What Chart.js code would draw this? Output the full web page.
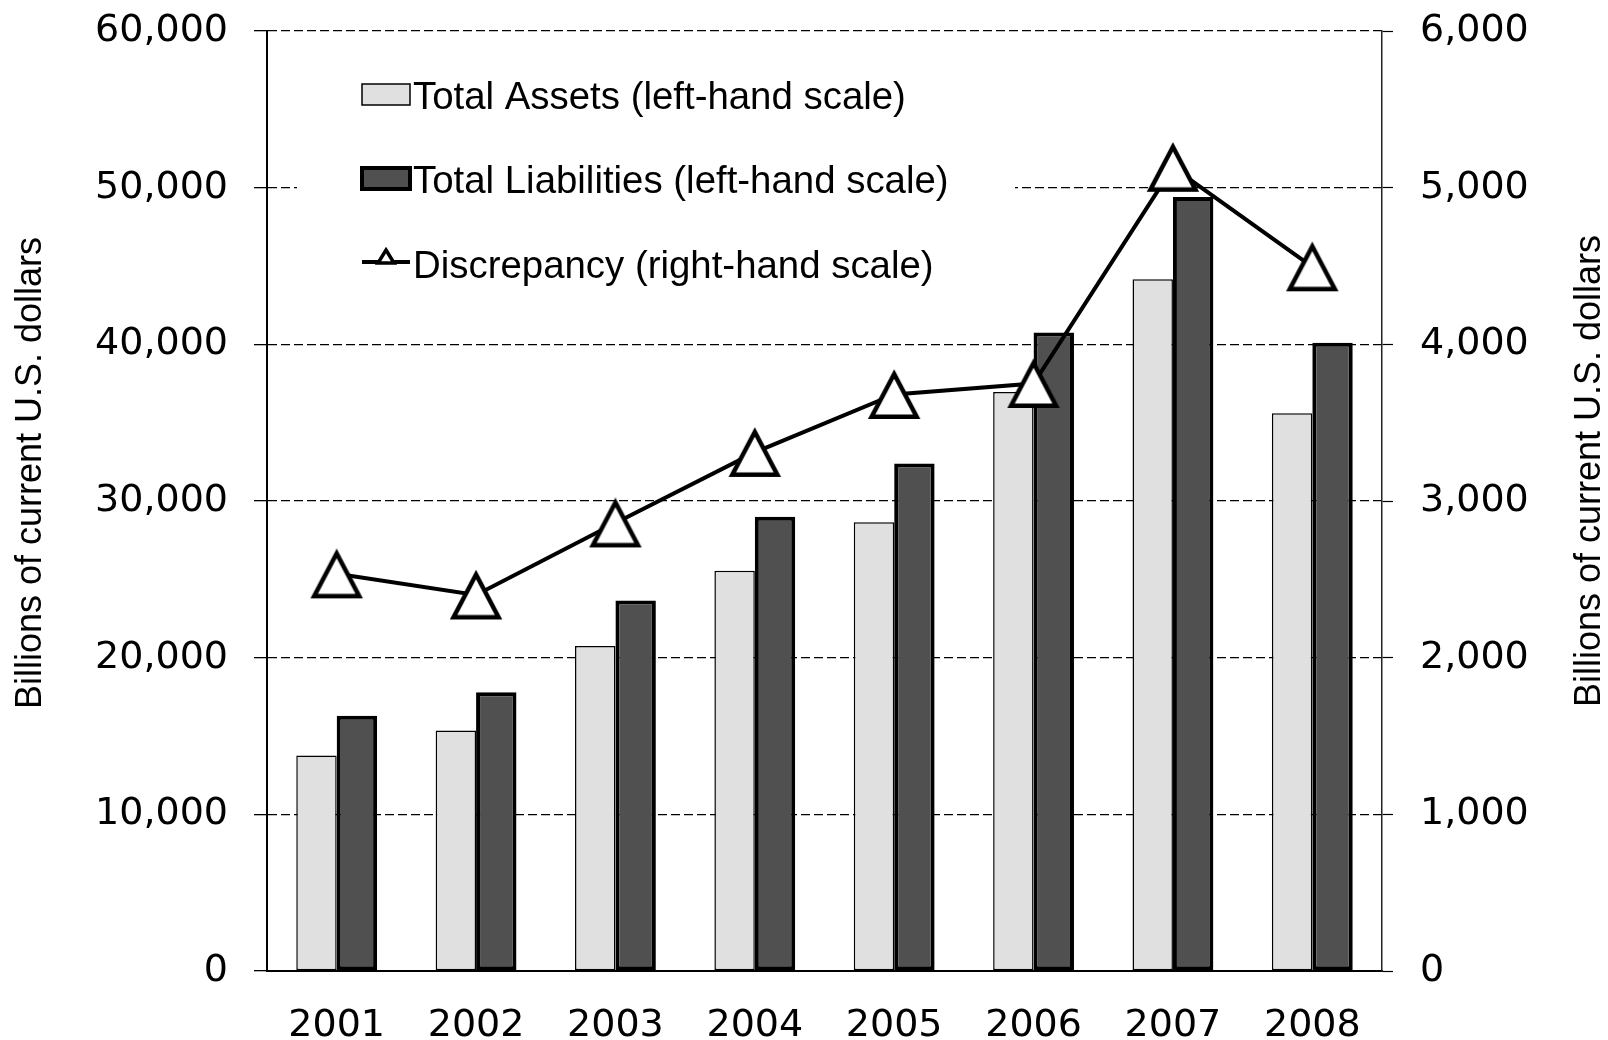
<!DOCTYPE html>
<html>
<head>
<meta charset="utf-8">
<script src="https://cdn.jsdelivr.net/npm/chart.js@4"></script>
<style>
  html, body { margin: 0; padding: 0; background: #fff; }
  #wrap { width: 1608px; height: 1040px; }
</style>
</head>
<body>
<div id="wrap"><canvas id="chart" width="1608" height="1040"></canvas></div>
<script>
// data
const years = ['2001', '2002', '2003', '2004', '2005', '2006', '2007', '2008'];
const totalAssets = [13750, 15350, 20750, 25550, 28650, 36950, 44150, 35600];
const totalLiabilities = [16300, 17800, 23650, 29000, 32400, 40750, 49400, 40100];
const discrepancy = [2535, 2400, 2860, 3310, 3680, 3750, 5130, 4495];
const leftTicks = [0, 10000, 20000, 30000, 40000, 50000, 60000];
const rightTicks = [0, 1000, 2000, 3000, 4000, 5000, 6000];

const axisTitle = 'Billions of current U.S. dollars';
const tickFont = { family: 'DejaVu Sans', size: 38 };

// triangle marker, centred on its bounding box like the original
function makeTriangle(w, h, lw) {
    const c = document.createElement('canvas');
    c.width = w;
    c.height = h;
    const g = c.getContext('2d');
    g.beginPath();
    g.moveTo(w / 2, lw + 0.5);
    g.lineTo(w - lw, h - lw / 2 - 1);
    g.lineTo(lw, h - lw / 2 - 1);
    g.closePath();
    g.fillStyle = '#fff';
    g.fill();
    g.lineWidth = lw;
    g.lineJoin = 'miter';
    g.strokeStyle = '#000';
    g.stroke();
    return c;
}
const bigTriangle = makeTriangle(54, 51, 4.5);

// fixed axis box sizes so the plot area sits where the original's does
function fixBox(size, vertical) {
    return function (scale) {
        if (vertical) {
            scale.width = size;
            scale.paddingTop = 0;
            scale.paddingBottom = 0;
        } else {
            scale.height = size;
            scale.paddingLeft = 0;
            scale.paddingRight = 0;
        }
    };
}

// legend drawn inside the plot, on a white box that hides the grid
const legendPlugin = {
    id: 'insideLegend',
    beforeDatasetsDraw(chart) {
        const ctx = chart.ctx;
        ctx.save();
        ctx.fillStyle = '#fff';
        ctx.fillRect(297, 45, 718, 250);

        const sx = 362, sw = 48;
        // Total Assets swatch
        ctx.fillStyle = '#e0e0e0';
        ctx.fillRect(sx, 84, sw, 21);
        ctx.lineWidth = 1.5;
        ctx.strokeStyle = '#000';
        ctx.strokeRect(sx, 84, sw, 21);
        // Total Liabilities swatch
        ctx.fillStyle = '#505050';
        ctx.fillRect(sx, 168, sw, 21);
        ctx.lineWidth = 4;
        ctx.strokeRect(sx, 168, sw, 21);
        // Discrepancy line + small triangle
        ctx.beginPath();
        ctx.moveTo(sx, 262);
        ctx.lineTo(sx + sw, 262);
        ctx.lineWidth = 4;
        ctx.stroke();
        ctx.beginPath();
        ctx.moveTo(sx + sw / 2, 250);
        ctx.lineTo(sx + sw / 2 + 8, 263);
        ctx.lineTo(sx + sw / 2 - 8, 263);
        ctx.closePath();
        ctx.fillStyle = '#fff';
        ctx.fill();
        ctx.lineWidth = 3.5;
        ctx.stroke();

        ctx.fillStyle = '#000';
        ctx.font = '38.4px "Liberation Sans", Arial, sans-serif';
        ctx.textAlign = 'left';
        ctx.textBaseline = 'middle';
        const ds = chart.data.datasets;
        ctx.fillText(ds[0].label, 413, 98);
        ctx.fillText(ds[1].label, 413, 182);
        ctx.fillText(ds[2].label, 413, 267);
        ctx.restore();
    },
    afterDraw(chart) {
        const ctx = chart.ctx;
        ctx.save();
        ctx.fillStyle = '#000';
        ctx.font = '36px "Liberation Sans", Arial, sans-serif';
        ctx.textAlign = 'center';
        ctx.textBaseline = 'middle';
        [[31, 473], [1590, 471]].forEach(([x, y]) => {
            ctx.save();
            ctx.translate(x, y);
            ctx.rotate(-Math.PI / 2);
            ctx.fillText(axisTitle, 0, 0);
            ctx.restore();
        });
        ctx.restore();
    }
};

new Chart(document.getElementById('chart'), {
    type: 'bar',
    data: {
        labels: years,
        datasets: [
            {
                label: 'Total Assets (left-hand scale)',
                data: totalAssets,
                backgroundColor: '#e0e0e0',
                borderColor: '#000',
                borderWidth: 1.5,
                borderSkipped: false,
                yAxisID: 'y',
                order: 1
            },
            {
                label: 'Total Liabilities (left-hand scale)',
                data: totalLiabilities,
                backgroundColor: '#505050',
                borderColor: '#000',
                borderWidth: 4,
                borderSkipped: false,
                yAxisID: 'y',
                order: 1
            },
            {
                type: 'line',
                label: 'Discrepancy (right-hand scale)',
                data: discrepancy,
                borderColor: '#000',
                borderWidth: 4,
                tension: 0,
                pointStyle: bigTriangle,
                pointRadius: 27,
                yAxisID: 'y1',
                order: 0
            }
        ]
    },
    options: {
        responsive: false,
        animation: false,
        devicePixelRatio: 1,
        categoryPercentage: 0.58,
        barPercentage: 1.0,
        layout: { padding: { top: 28, left: 0, right: 0, bottom: 0 } },
        plugins: {
            legend: { display: false },
            tooltip: { enabled: false }
        },
        scales: {
            x: {
                afterFit: fixBox(69, false),
                grid: { display: true, drawOnChartArea: false, drawTicks: false },
                border: { display: true, color: '#000', width: 2 },
                ticks: { color: '#000', font: tickFont, padding: 32, maxRotation: 0 }
            },
            y: {
                position: 'left',
                min: 0,
                max: 60000,
                afterFit: fixBox(267, true),
                afterBuildTicks(scale) { scale.ticks = leftTicks.map(v => ({ value: v })); },
                grid: {
                    color: '#000',
                    lineWidth: 1.3,
                    tickBorderDash: [],
                    tickLength: 13,
                    tickColor: '#000',
                    tickWidth: 1.3
                },
                border: { display: true, color: '#000', width: 2, dash: [9, 4] },
                ticks: {
                    color: '#000',
                    font: tickFont,
                    padding: 26,
                    callback: v => v.toLocaleString('en-US')
                }
            },
            y1: {
                position: 'right',
                min: 0,
                max: 6000,
                afterFit: fixBox(226, true),
                afterBuildTicks(scale) { scale.ticks = rightTicks.map(v => ({ value: v })); },
                grid: {
                    drawOnChartArea: false,
                    tickLength: 11,
                    tickColor: '#000',
                    tickWidth: 1.2
                },
                border: { display: true, color: '#222', width: 1.5 },
                ticks: {
                    color: '#000',
                    font: tickFont,
                    padding: 27,
                    callback: v => v.toLocaleString('en-US')
                }
            }
        }
    },
    plugins: [legendPlugin]
});
</script>
</body>
</html>
